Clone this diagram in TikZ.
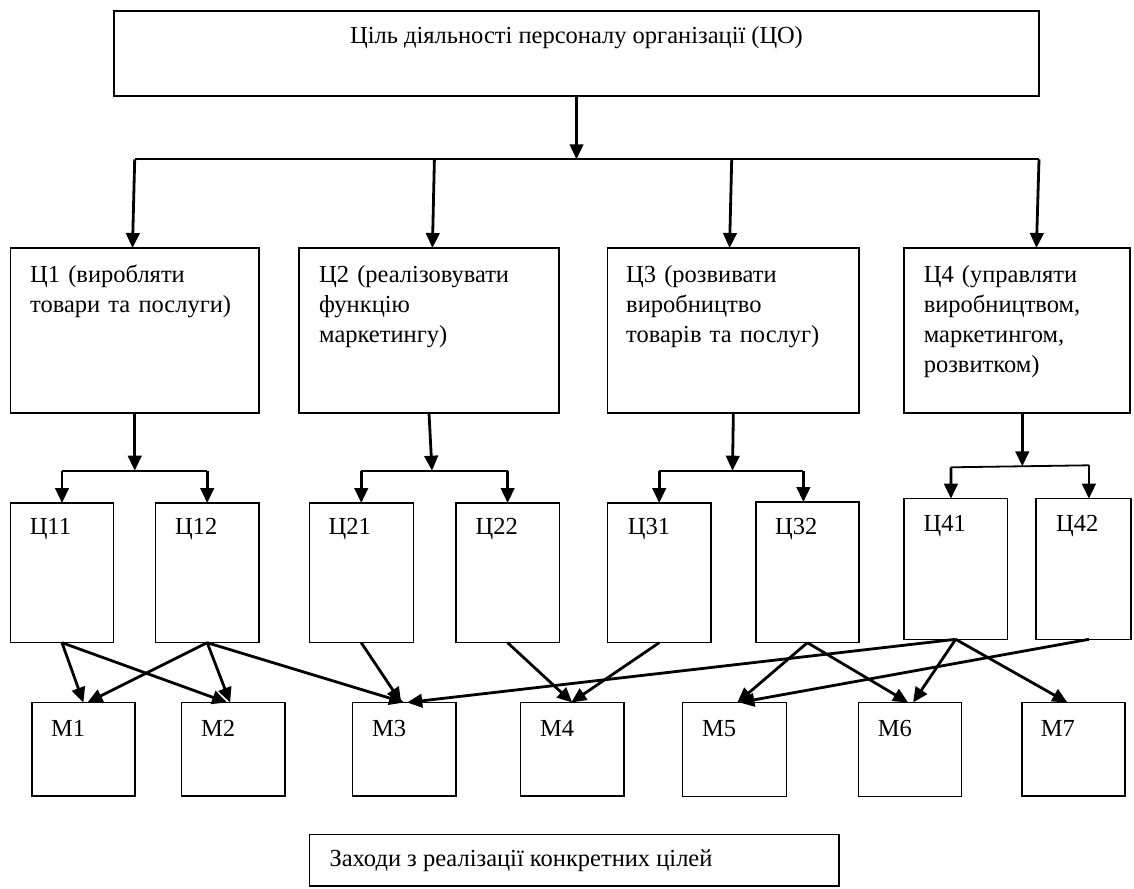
\documentclass[tikz,border=0pt]{standalone}
\usepackage{fontspec}
\setmainfont{Liberation Serif}
\usetikzlibrary{arrows.meta}
\newcommand\mybox[5]{\node[box, minimum width={(#4-#2)*1pt}, minimum height={(#5-#3)*1pt}] (#1) at ({(#2+#4)/2},{(#3+#5)/2}) {};}
\begin{document}
\begin{tikzpicture}[x=1pt,y=-1pt,
  box/.style={draw, line width=1.4pt, inner sep=0pt, outer sep=0pt},
  lbl/.style={inner sep=0pt, anchor=base west, font=\fontsize{24.5}{30.3}\selectfont},
  mlbl/.style={lbl, text width=240pt, align=left},
  arr/.style={line width=2.8pt, -{Triangle[length=15pt,width=13.5pt]}},
  bus/.style={line width=1.8pt}]
\fill[white] (0,0) rectangle (1134,888);
\useasboundingbox (0,0) rectangle (1134,888);
% boxes
\mybox{top}{114}{11}{1039}{96}
\mybox{C1}{10.5}{248}{259}{413}
\mybox{C2}{299}{248}{559}{413}
\mybox{C3}{607.7}{248}{859}{413}
\mybox{C4}{904}{248}{1130}{413}
\mybox{C11}{10.4}{503}{113.6}{642.7}
\mybox{C12}{155.4}{503}{259}{642.7}
\mybox{C21}{309.3}{503}{413.2}{642.7}
\mybox{C22}{455.8}{503}{559.4}{642.7}
\mybox{C31}{607.6}{503}{710.8}{642.7}
\mybox{C32}{755.8}{502}{859}{642.7}
\mybox{C41}{904}{498.7}{1007.3}{639.3}
\mybox{C42}{1035.8}{498.7}{1131}{639.3}
\mybox{M1}{31.8}{702.5}{135}{796}
\mybox{M2}{181.3}{702.5}{285}{796}
\mybox{M3}{352.6}{702.5}{455.8}{796}
\mybox{M4}{520.5}{702.5}{624}{796}
\mybox{M5}{682.6}{702.5}{786.2}{796.5}
\mybox{M6}{858.7}{702.5}{961.5}{796.5}
\mybox{M7}{1022}{702.5}{1124.8}{796}
\mybox{B}{309.3}{834.3}{839}{886}
% texts
\node[lbl, anchor=base] (topt) at (576.5,44) {Ціль діяльності персоналу організації (ЦО)};
\node[mlbl] (C1t) at (30,282) {Ц1 (виробляти\\товари та послуги)};
\node[mlbl] (C2t) at (319,282) {Ц2 (реалізовувати\\функцію\\маркетингу)};
\node[mlbl] (C3t) at (626,282) {Ц3 (розвивати\\виробництво\\товарів та послуг)};
\node[mlbl] (C4t) at (923.6,282) {Ц4 (управляти\\виробництвом,\\маркетингом,\\розвитком)};
\node[lbl] (C11t) at (29.6,534) {Ц11};
\node[lbl] (C12t) at (175,534) {Ц12};
\node[lbl] (C21t) at (328.5,534) {Ц21};
\node[lbl] (C22t) at (475.4,534) {Ц22};
\node[lbl] (C31t) at (627.7,534) {Ц31};
\node[lbl] (C32t) at (775,534) {Ц32};
\node[lbl] (C41t) at (923.5,531) {Ц41};
\node[lbl] (C42t) at (1056,531) {Ц42};
\node[lbl] (M1t) at (51,736) {М1};
\node[lbl] (M2t) at (201,736) {М2};
\node[lbl] (M3t) at (372,736) {М3};
\node[lbl] (M4t) at (540,736) {М4};
\node[lbl] (M5t) at (702,736) {М5};
\node[lbl] (M6t) at (877.7,736) {М6};
\node[lbl] (M7t) at (1040.6,736) {М7};
\node[lbl] (Bt) at (329.3,866.5) {Заходи з реалізації конкретних цілей};
% level 1
\coordinate (b0) at (576.5,159.3);
\coordinate (bL) at (134.7,159.3);
\coordinate (b2) at (434.4,159.3);
\coordinate (b3) at (731.7,159.3);
\coordinate (bR) at (1039,159.3);
\draw[arr] (top.south) -- (b0);
\draw[bus] (bL) -- (bR);
\draw[arr] (bL) -- ([xshift=-2.3pt]C1.north);
\draw[arr] (b2) -- ([xshift=3.4pt]C2.north);
\draw[arr] (b3) -- ([xshift=-3.8pt]C3.north);
\draw[arr] (bR) -- ([xshift=19.4pt]C4.north);
% level 2
\coordinate (s1) at (134.75,470.7);
\draw[arr] (C1.south) -- (s1);
\draw[bus] (C11.north |- s1) -- (C12.north |- s1);
\draw[arr] (C11.north |- s1) -- (C11.north);
\draw[arr] (C12.north |- s1) -- (C12.north);
\coordinate (s2) at (432,470.7);
\draw[arr] (C2.south) -- (s2);
\draw[bus] (C21.north |- s2) -- (C22.north |- s2);
\draw[arr] (C21.north |- s2) -- (C21.north);
\draw[arr] (C22.north |- s2) -- (C22.north);
\coordinate (s3) at (732.5,470.7);
\draw[arr] (C3.south) -- (s3);
\draw[bus] (C31.north |- s3) -- ([xshift=-4pt]C32.north |- s3);
\draw[arr] (C31.north |- s3) -- (C31.north);
\draw[arr] ([xshift=-4pt]C32.north |- s3) -- ([xshift=-4pt]C32.north);
\coordinate (s4) at (1022.3,466.3);
\coordinate (s4L) at (950.9,467.3);
\coordinate (s4R) at (1088.9,465.3);
\draw[arr] ([xshift=5.3pt]C4.south) -- (s4);
\draw[bus] (s4L) -- (s4R);
\draw[arr] (s4L) -- ([xshift=-4.7pt]C41.north);
\draw[arr] (s4R) -- ([xshift=5.5pt]C42.north);
% level 3
\draw[arr] (C11.south) -- (M1.north);
\draw[arr] (C11.south) -- ([xshift=-6pt]M2.north);
\draw[arr] (C12.south) -- ([xshift=4pt]M1.north);
\draw[arr] (C12.south) -- ([xshift=-3pt]M2.north);
\draw[arr] (C12.south) -- (M3.north);
\draw[arr] (C21.south) -- ([xshift=-3pt]M3.north);
\draw[arr] (C22.south) -- (M4.north);
\draw[arr] (C31.south) -- ([xshift=-1pt]M4.north);
\draw[arr] (C32.south) -- ([xshift=3pt]M5.north);
\draw[arr] (C32.south) -- ([xshift=-2pt]M6.north);
\draw[arr] (C41.south) -- ([xshift=3pt]M3.north);
\draw[arr] (C41.south) -- ([xshift=3pt]M6.north);
\draw[arr] (C41.south) -- ([xshift=-6pt]M7.north);
\draw[arr] ([xshift=5.5pt]C42.south) -- ([xshift=5pt]M5.north);
\end{tikzpicture}
\end{document}
